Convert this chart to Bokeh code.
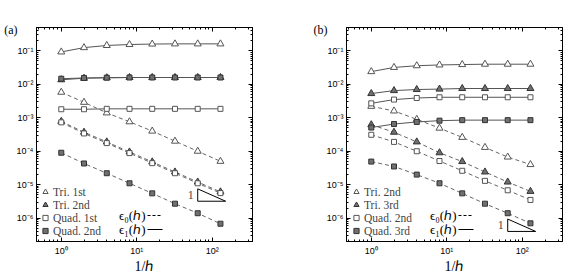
import math
from bokeh.plotting import figure
from bokeh.layouts import row
from bokeh.models import (FixedTicker, CustomJSTickFormatter, LogAxis, Legend, LegendItem,
                          Label, Arrow)
from bokeh.embed import file_html
from bokeh.resources import INLINE

# ---------------- data ----------------
inv_h = [1, 2, 4, 8, 16, 32, 64, 128]

# panel (a)
a_tri1_e0 = [5.8e-3, 2.9e-3, 1.4e-3, 7.6e-4, 4.0e-4, 2.0e-4, 1.0e-4, 5.0e-5]
a_tri1_e1 = [0.093, 0.125, 0.145, 0.155, 0.16, 0.162, 0.162, 0.162]
a_tri2_e0 = [7.8e-4, 3.7e-4, 1.9e-4, 9.5e-5, 4.8e-5, 2.4e-5, 1.2e-5, 6.1e-6]
a_tri2_e1 = [0.0137, 0.0152, 0.0157, 0.016, 0.016, 0.016, 0.016, 0.016]
a_quad1_e0 = [7.3e-4, 3.4e-4, 1.75e-4, 8.8e-5, 4.4e-5, 2.2e-5, 1.1e-5, 5.6e-6]
a_quad1_e1 = [1.8e-3, 1.8e-3, 1.85e-3, 1.85e-3, 1.85e-3, 1.85e-3, 1.85e-3, 1.85e-3]
a_quad2_e0 = [9.0e-5, 4.3e-5, 2.2e-5, 1.1e-5, 5.5e-6, 2.7e-6, 1.4e-6, 6.8e-7]
a_quad2_e1 = [0.0147, 0.0155, 0.0158, 0.016, 0.016, 0.016, 0.016, 0.016]
a_labels = ["Tri. 1st", "Tri. 2nd", "Quad. 1st", "Quad. 2nd"]

# panel (b)
b_tri2_e0 = [2.2e-3, 1.6e-3, 9.0e-4, 4.9e-4, 2.6e-4, 1.3e-4, 6.7e-5, 4.0e-5]
b_tri2_e1 = [0.024, 0.032, 0.036, 0.038, 0.039, 0.04, 0.04, 0.04]
b_tri3_e0 = [6.2e-4, 3.7e-4, 1.9e-4, 9.0e-5, 4.9e-5, 2.4e-5, 1.2e-5, 6.3e-6]
b_tri3_e1 = [5.3e-3, 6.5e-3, 7.0e-3, 7.2e-3, 7.5e-3, 7.5e-3, 7.5e-3, 7.5e-3]
b_quad2_e0 = [3.1e-4, 1.9e-4, 1.0e-4, 5.1e-5, 2.6e-5, 1.3e-5, 6.8e-6, 3.5e-6]
b_quad2_e1 = [2.7e-3, 3.5e-3, 3.9e-3, 4.1e-3, 4.1e-3, 4.1e-3, 4.1e-3, 4.1e-3]
b_quad3_e0 = [4.9e-5, 3.5e-5, 2.0e-5, 1.1e-5, 5.5e-6, 2.7e-6, 1.4e-6, 7.0e-7]
b_quad3_e1 = [5.1e-4, 6.5e-4, 7.5e-4, 8.2e-4, 8.5e-4, 8.5e-4, 8.5e-4, 8.5e-4]
b_labels = ["Tri. 2nd", "Tri. 3rd", "Quad. 2nd", "Quad. 3rd"]

x_major = [1, 10, 100]
y_major = [1e-6, 1e-5, 1e-4, 1e-3, 1e-2, 1e-1]

# ---------------- styles ----------------
SERIF = "Liberation Serif"
SANS = "Liberation Sans"
MARK_LINE = "#333333"
MARK_FILL = "#707070"
SOLID_COL = "#555555"
DASH_COL = "#666666"

x_minor = [k * 10 ** e for e in (-1, 0, 1, 2) for k in range(2, 10)]
y_minor = [k * 10 ** e for e in range(-7, 0) for k in range(2, 10)]

fmt_code = """
const e = Math.round(Math.log10(tick));
const m = {"-":"\u207b","0":"\u2070","1":"\u00b9","2":"\u00b2","3":"\u00b3","4":"\u2074",
           "5":"\u2075","6":"\u2076","7":"\u2077","8":"\u2078","9":"\u2079"};
return "10" + String(e).split("").map(c => m[c]).join("");
"""


def style_axis(ax, ticks, minor, show_labels):
    ax.ticker = FixedTicker(ticks=ticks, minor_ticks=minor)
    ax.major_tick_in = 4
    ax.major_tick_out = 0
    ax.minor_tick_in = 2
    ax.minor_tick_out = 0
    ax.axis_line_color = "black"
    ax.major_tick_line_color = "black"
    ax.minor_tick_line_color = "black"
    ax.axis_label_standoff = 0
    if show_labels:
        ax.formatter = CustomJSTickFormatter(code=fmt_code)
        ax.major_label_text_font = SANS
        ax.major_label_text_font_size = "9px"
        ax.major_label_text_color = "black"
        ax.major_label_standoff = 3
    else:
        ax.formatter = CustomJSTickFormatter(code="return '';")
        ax.major_label_standoff = 0


def make_panel(width, border_left, border_right, series, labels, panel_label,
               leg_loc, eps_x, tri_anchor):
    p = figure(width=width, height=278, x_axis_type="log", y_axis_type="log",
               x_range=(0.47, 340), y_range=(2e-7, 0.5),
               output_backend="svg", toolbar_location=None,
               min_border_left=border_left, min_border_right=border_right,
               min_border_top=27, min_border_bottom=37)
    p.xgrid.visible = False
    p.ygrid.visible = False
    p.outline_line_color = "black"
    p.outline_line_width = 1
    p.background_fill_color = "white"
    p.border_fill_color = "white"

    style_axis(p.xaxis[0], x_major, x_minor, True)
    style_axis(p.yaxis[0], y_major, y_minor, True)
    p.xaxis[0].major_label_standoff = 4
    p.xaxis[0].axis_label = "1/\u210e"
    p.xaxis[0].axis_label_text_font = SERIF
    p.xaxis[0].axis_label_text_font_size = "14px"
    p.xaxis[0].axis_label_text_font_style = "normal"
    p.xaxis[0].axis_label_text_color = "black"
    top = LogAxis()
    style_axis(top, x_major, x_minor, False)
    p.add_layout(top, "above")
    right = LogAxis()
    style_axis(right, y_major, y_minor, False)
    p.add_layout(right, "right")

    # panel tag: an outer, line-less left axis carrying one label near the top
    tag_axis = LogAxis(ticker=FixedTicker(ticks=[0.42], minor_ticks=[]),
                       formatter=CustomJSTickFormatter(code="return %r;" % panel_label),
                       axis_line_color=None, major_tick_line_color=None,
                       minor_tick_line_color=None, major_tick_in=0, major_tick_out=0,
                       minor_tick_in=0, minor_tick_out=0, major_label_standoff=-4,
                       axis_label_standoff=0,
                       major_label_text_font=SERIF, major_label_text_font_size="12px",
                       major_label_text_color="black")
    p.add_layout(tag_axis, "left")

    items = []
    for (e0, e1, marker, filled), lab in zip(series, labels):
        size = 7 if marker == "triangle" else 5
        fill = MARK_FILL if filled else "white"
        lcol = MARK_LINE if filled else "#555555"
        p.line(inv_h, e1, line_color=SOLID_COL, line_width=1)
        p.line(inv_h, e0, line_color=DASH_COL, line_width=1, line_dash="4 3")
        p.scatter(inv_h, e1, marker=marker, size=size, fill_color=fill,
                  line_color=lcol, line_width=1)
        r = p.scatter(inv_h, e0, marker=marker, size=size, fill_color=fill,
                      line_color=lcol, line_width=1)
        items.append(LegendItem(label=lab, renderers=[r]))

    leg = Legend(items=items, location=leg_loc, background_fill_alpha=0,
                 border_line_alpha=0, label_text_font=SERIF,
                 label_text_font_size="11.5px", glyph_width=14, glyph_height=13,
                 spacing=0, label_standoff=1, padding=0, margin=0, label_height=12)
    p.add_layout(leg)

    # epsilon key
    for txt, yy, dash in (("\u03f5\u2080(\u210e)", 26, "3 2"), ("\u03f5\u2081(\u210e)", 12, "solid")):
        p.add_layout(Label(x=eps_x, y=yy, x_units="screen", y_units="screen", text=txt,
                           text_align="right", text_baseline="middle",
                           text_font=SERIF, text_font_size="13px", text_color="black"))
        p.add_layout(Arrow(end=None, x_start=eps_x + 2, y_start=yy, x_end=eps_x + 17, y_end=yy,
                           start_units="screen", end_units="screen",
                           line_color="black", line_width=1, line_dash=dash))

    # slope-1 triangle
    x0, x1, yb = tri_anchor
    yt = yb * x1 / x0
    p.line([x0, x0, x1, x0], [yt, yb, yb, yt], line_color="black", line_width=1)
    p.add_layout(Label(x=x0, y=math.sqrt(yt * yb), x_offset=-4, text="1",
                       text_align="right", text_baseline="middle",
                       text_font=SERIF, text_font_size="12px"))
    return p


series_a = [(a_tri1_e0, a_tri1_e1, "triangle", False),
            (a_tri2_e0, a_tri2_e1, "triangle", True),
            (a_quad1_e0, a_quad1_e1, "square", False),
            (a_quad2_e0, a_quad2_e1, "square", True)]
series_b = [(b_tri2_e0, b_tri2_e1, "triangle", False),
            (b_tri3_e0, b_tri3_e1, "triangle", True),
            (b_quad2_e0, b_quad2_e1, "square", False),
            (b_quad3_e0, b_quad3_e1, "square", True)]

pa = make_panel(298, 36, 46, series_a, a_labels, "(a)", (2, 4), 109, (64, 150, 3.2e-6))
pb = make_panel(288, 48, 24, series_b, b_labels, "(b)", (3, 4), 110, (64, 150, 4.0e-7))

layout = row(pa, pb)
open("out.html", "w").write(file_html(layout, INLINE))
